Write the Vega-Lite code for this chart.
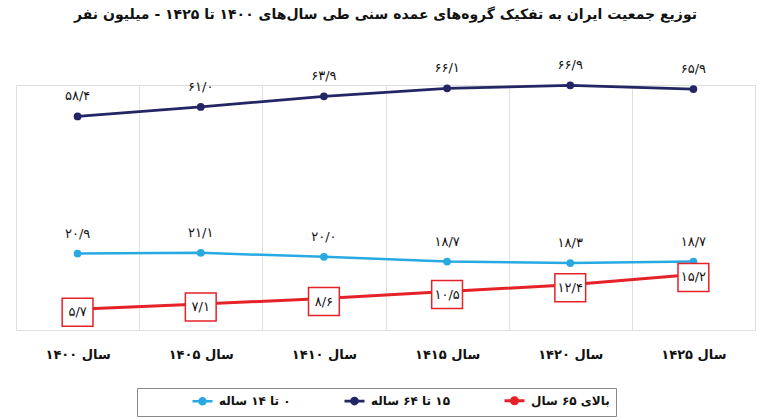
{
  "$schema": "https://vega.github.io/schema/vega-lite/v6.json",
  "width": 739,
  "height": 245,
  "autosize": {"type": "none"},
  "padding": {"left": 16, "top": 85, "right": 13, "bottom": 90},
  "background": "white",
  "title": {
    "text": "توزیع جمعیت ایران به تفکیک گروه‌های عمده سنی طی سال‌های ۱۴۰۰ تا ۱۴۲۵ - میلیون نفر",
    "font": "DejaVu Sans",
    "fontSize": 14,
    "fontWeight": "bold",
    "color": "#111111",
    "anchor": "middle",
    "offset": 37
  },
  "data": {
    "values": [
      {"year": "سال ۱۴۰۰", "series": "۱۵ تا ۶۴ ساله", "value": 58.4, "label": "۵۸/۴"},
      {"year": "سال ۱۴۰۵", "series": "۱۵ تا ۶۴ ساله", "value": 61.0, "label": "۶۱/۰"},
      {"year": "سال ۱۴۱۰", "series": "۱۵ تا ۶۴ ساله", "value": 63.9, "label": "۶۳/۹"},
      {"year": "سال ۱۴۱۵", "series": "۱۵ تا ۶۴ ساله", "value": 66.1, "label": "۶۶/۱"},
      {"year": "سال ۱۴۲۰", "series": "۱۵ تا ۶۴ ساله", "value": 66.9, "label": "۶۶/۹"},
      {"year": "سال ۱۴۲۵", "series": "۱۵ تا ۶۴ ساله", "value": 65.9, "label": "۶۵/۹"},
      {"year": "سال ۱۴۰۰", "series": "۰ تا ۱۴ ساله", "value": 20.9, "label": "۲۰/۹"},
      {"year": "سال ۱۴۰۵", "series": "۰ تا ۱۴ ساله", "value": 21.1, "label": "۲۱/۱"},
      {"year": "سال ۱۴۱۰", "series": "۰ تا ۱۴ ساله", "value": 20.0, "label": "۲۰/۰"},
      {"year": "سال ۱۴۱۵", "series": "۰ تا ۱۴ ساله", "value": 18.7, "label": "۱۸/۷"},
      {"year": "سال ۱۴۲۰", "series": "۰ تا ۱۴ ساله", "value": 18.3, "label": "۱۸/۳"},
      {"year": "سال ۱۴۲۵", "series": "۰ تا ۱۴ ساله", "value": 18.7, "label": "۱۸/۷"},
      {"year": "سال ۱۴۰۰", "series": "بالای ۶۵ سال", "value": 5.7, "label": "۵/۷"},
      {"year": "سال ۱۴۰۵", "series": "بالای ۶۵ سال", "value": 7.1, "label": "۷/۱"},
      {"year": "سال ۱۴۱۰", "series": "بالای ۶۵ سال", "value": 8.6, "label": "۸/۶"},
      {"year": "سال ۱۴۱۵", "series": "بالای ۶۵ سال", "value": 10.5, "label": "۱۰/۵"},
      {"year": "سال ۱۴۲۰", "series": "بالای ۶۵ سال", "value": 12.4, "label": "۱۲/۴"},
      {"year": "سال ۱۴۲۵", "series": "بالای ۶۵ سال", "value": 15.2, "label": "۱۵/۲"}
    ]
  },
  "encoding": {
    "x": {
      "field": "year",
      "type": "ordinal",
      "sort": null,
      "scale": {"paddingInner": 0, "paddingOuter": 0},
      "axis": {
        "title": null,
        "labelAngle": 0,
        "labelFont": "DejaVu Sans",
        "labelFontSize": 13,
        "labelFontWeight": "bold",
        "labelColor": "#111111",
        "labelPadding": 18,
        "ticks": false,
        "domainColor": "#e0e0e0",
        "grid": true,
        "gridColor": "#e0e0e0",
        "tickBand": "extent"
      }
    },
    "y": {
      "field": "value",
      "type": "quantitative",
      "scale": {"domain": [0, 67], "nice": false},
      "axis": null
    }
  },
  "layer": [
    {
      "mark": {"type": "line"},
      "encoding": {
        "color": {
          "field": "series",
          "type": "nominal",
          "scale": {
            "domain": ["۰ تا ۱۴ ساله", "۱۵ تا ۶۴ ساله", "بالای ۶۵ سال"],
            "range": ["#29a9e1", "#232564", "#e52228"]
          },
          "legend": {
            "orient": "none",
            "legendX": 121,
            "legendY": 303,
            "direction": "horizontal",
            "title": " ",
            "titleOrient": "left",
            "titleAngle": 0,
            "titleBaseline": "middle",
            "titleFontSize": 1,
            "titleLineHeight": 1,
            "titlePadding": 53,
            "strokeColor": "#888888",
            "fillColor": "white",
            "padding": 6,
            "columnPadding": 48,
            "labelFont": "DejaVu Sans",
            "labelFontSize": 12,
            "labelFontWeight": "bold",
            "labelColor": "#111111",
            "labelOffset": 10,
            "labelExpr": "datum.label == 'بالای ۶۵ سال' ? '\u200f' + datum.label + '                  ' : '\u200f' + datum.label",
            "symbolType": "M-2,0L-0.6,0M0.6,0L2,0M-0.6,0A0.6,0.6 0 1,0 0.6,0A0.6,0.6 0 1,0 -0.6,0Z",
            "symbolStrokeWidth": 3,
            "symbolSize": 100
          }
        },
        "strokeWidth": {
          "field": "series",
          "type": "nominal",
          "scale": {
            "domain": ["۰ تا ۱۴ ساله", "۱۵ تا ۶۴ ساله", "بالای ۶۵ سال"],
            "range": [2.5, 3, 6]
          },
          "legend": null
        }
      }
    },
    {
      "transform": [{"filter": "datum.series != 'بالای ۶۵ سال'"}],
      "mark": {"type": "point", "filled": true, "size": 60, "opacity": 1},
      "encoding": {
        "color": {"field": "series", "type": "nominal", "legend": null}
      }
    },
    {
      "transform": [{"filter": "datum.series != 'بالای ۶۵ سال'"}],
      "mark": {"type": "text", "dy": -20, "font": "DejaVu Sans", "fontSize": 13, "color": "#111111"},
      "encoding": {"text": {"field": "label"}}
    },
    {
      "transform": [{"filter": "datum.series == 'بالای ۶۵ سال'"}],
      "mark": {
        "type": "point",
        "shape": "M-1.1,-1L1.1,-1L1.1,1L-1.1,1Z",
        "size": 784,
        "filled": true,
        "fill": "white",
        "stroke": "#e52228",
        "strokeWidth": 1.5,
        "opacity": 1,
        "yOffset": 3
      },
      "encoding": {}
    },
    {
      "transform": [{"filter": "datum.series == 'بالای ۶۵ سال'"}],
      "mark": {"type": "text", "dy": 3, "font": "DejaVu Sans", "fontSize": 13, "color": "#111111"},
      "encoding": {"text": {"field": "label"}}
    }
  ]
}
